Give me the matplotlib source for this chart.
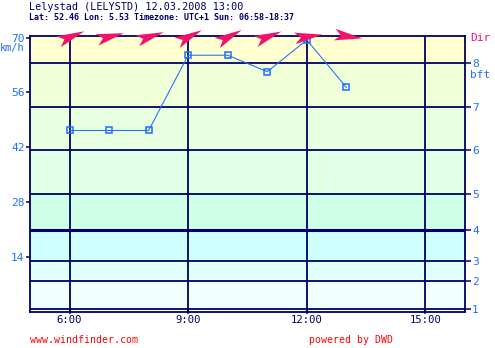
import matplotlib
matplotlib.use("Agg")
import matplotlib.pyplot as plt
from matplotlib.path import Path
from matplotlib.markers import MarkerStyle
from matplotlib.transforms import Affine2D

# forecast data
hours = [6, 7, 8, 9, 10, 11, 12, 13]
wind_kmh = [46.3, 46.3, 46.3, 65.5, 65.5, 61.3, 69.4, 57.3]
wind_dir = [248, 256, 252, 243, 242, 249, 262, 278]   # direction wind comes from (deg)

# Beaufort scale boundaries in km/h and the band fill colours
bft_levels = [1, 2, 3, 4, 5, 6, 7, 8]
bft_kmh = [0.8, 8.0, 13.0, 20.8, 30.1, 41.2, 52.4, 63.5]
band_edges = [0.0, 8.0, 13.0, 20.8, 30.1, 41.2, 52.4, 63.5, 70.4]
band_colors = ["#F0FFFF", "#E0FFFF", "#D0FFFF", "#D0FFE8", "#E0FFE4",
               "#E8FFE0", "#F0FFD8", "#FFFFD0"]

kmh_ticks = [14, 28, 42, 56, 70]
time_ticks = [6, 9, 12, 15]
time_labels = ["6:00", "9:00", "12:00", "15:00"]

title = "Lelystad (LELYSTD) 12.03.2008 13:00"
subtitle = "Lat: 52.46 Lon: 5.53 Timezone: UTC+1 Sun: 06:58-18:37"

NAVY = "#000066"
BLUE = "#1E6EFF"
PINK = "#F0136A"
MONO = "DejaVu Sans Mono"

fig = plt.figure(figsize=(4.95, 3.48), dpi=100)
ax = fig.add_axes([30 / 495, 1 - 312 / 348, 435 / 495, 276 / 348])
ax.set_xlim(5, 16)
ax.set_ylim(0, 70.4)

# coloured Beaufort bands
for lo, hi, c in zip(band_edges[:-1], band_edges[1:], band_colors):
    ax.axhspan(lo, hi, color=c, lw=0, zorder=0)

# Beaufort boundary lines
for b, v in zip(bft_levels, bft_kmh):
    ax.axhline(v, color=NAVY, lw=2.2 if b == 4 else 1.3, zorder=1)

# vertical time grid
for t in time_ticks:
    ax.axvline(t, color=NAVY, lw=1.3, zorder=1)

for s in ax.spines.values():
    s.set_color(NAVY)
    s.set_linewidth(1.3)

# left axis: km/h
ax.set_yticks(kmh_ticks)
ax.set_yticklabels([str(v) for v in kmh_ticks], color=BLUE, family=MONO, fontsize=8)
ax.tick_params(axis="y", which="both", length=3, width=1.1, color=NAVY, pad=1)

# bottom axis: time
ax.set_xticks(time_ticks)
ax.set_xticklabels(time_labels, color=NAVY, family=MONO, fontsize=7.6)
ax.tick_params(axis="x", length=3, width=1.1, color=NAVY, pad=1, direction="inout")

# right axis: Beaufort
axr = ax.twinx()
axr.set_ylim(ax.get_ylim())
axr.set_yticks(bft_kmh)
axr.set_yticklabels([str(b) for b in bft_levels], color=BLUE, family=MONO, fontsize=8)
axr.tick_params(axis="y", length=4, width=1.1, color=NAVY, pad=1)
for s in axr.spines.values():
    s.set_visible(False)

# wind speed line
ax.plot(hours, wind_kmh, color=BLUE, lw=0.75, marker="s", markersize=4.0,
        markerfacecolor="none", markeredgecolor=BLUE, markeredgewidth=1.1,
        zorder=4, clip_on=False)

# wind direction arrows along the top edge
dart = Path([(1.0, 0.0), (-1.0, 0.42), (-0.55, 0.0), (-1.0, -0.42), (1.0, 0.0)],
            [Path.MOVETO, Path.LINETO, Path.LINETO, Path.LINETO, Path.CLOSEPOLY])
ytop = ax.get_ylim()[1]
for h, d in zip(hours, wind_dir):
    angle = 270 - d
    m = MarkerStyle(dart, transform=Affine2D().rotate_deg(angle))
    ax.plot([h + 0.03], [ytop], marker=m, markersize=20, color=PINK,
            markeredgewidth=0, linestyle="none", zorder=6, clip_on=False)

# axis captions
fig.text(0 / 495, 1 - 43 / 348, "km/h", color=BLUE, family=MONO, fontsize=7.4,
         va="top", ha="left")
fig.text(470 / 495, 1 - 75 / 348, "bft", color=BLUE, family=MONO, fontsize=8,
         va="center", ha="left")
fig.text(470 / 495, 1 - 38 / 348, "Dir", color=PINK, family=MONO, fontsize=8,
         va="center", ha="left")

# header
fig.text(29 / 495, 1 - 7 / 348, title, color=NAVY, family=MONO, fontsize=7.3,
         va="center", ha="left")
fig.text(29 / 495, 1 - 17 / 348, subtitle, color=NAVY, family=MONO, fontsize=6,
         weight="bold", va="center", ha="left")

# footer
fig.text(30 / 495, 1 - 340 / 348, "www.windfinder.com", color="#FF0000",
         family=MONO, fontsize=7.1, va="center", ha="left")
fig.text(309 / 495, 1 - 340 / 348, "powered by DWD", color="#FF0000",
         family=MONO, fontsize=7.1, va="center", ha="left")

fig.savefig("out.png", dpi=100)
